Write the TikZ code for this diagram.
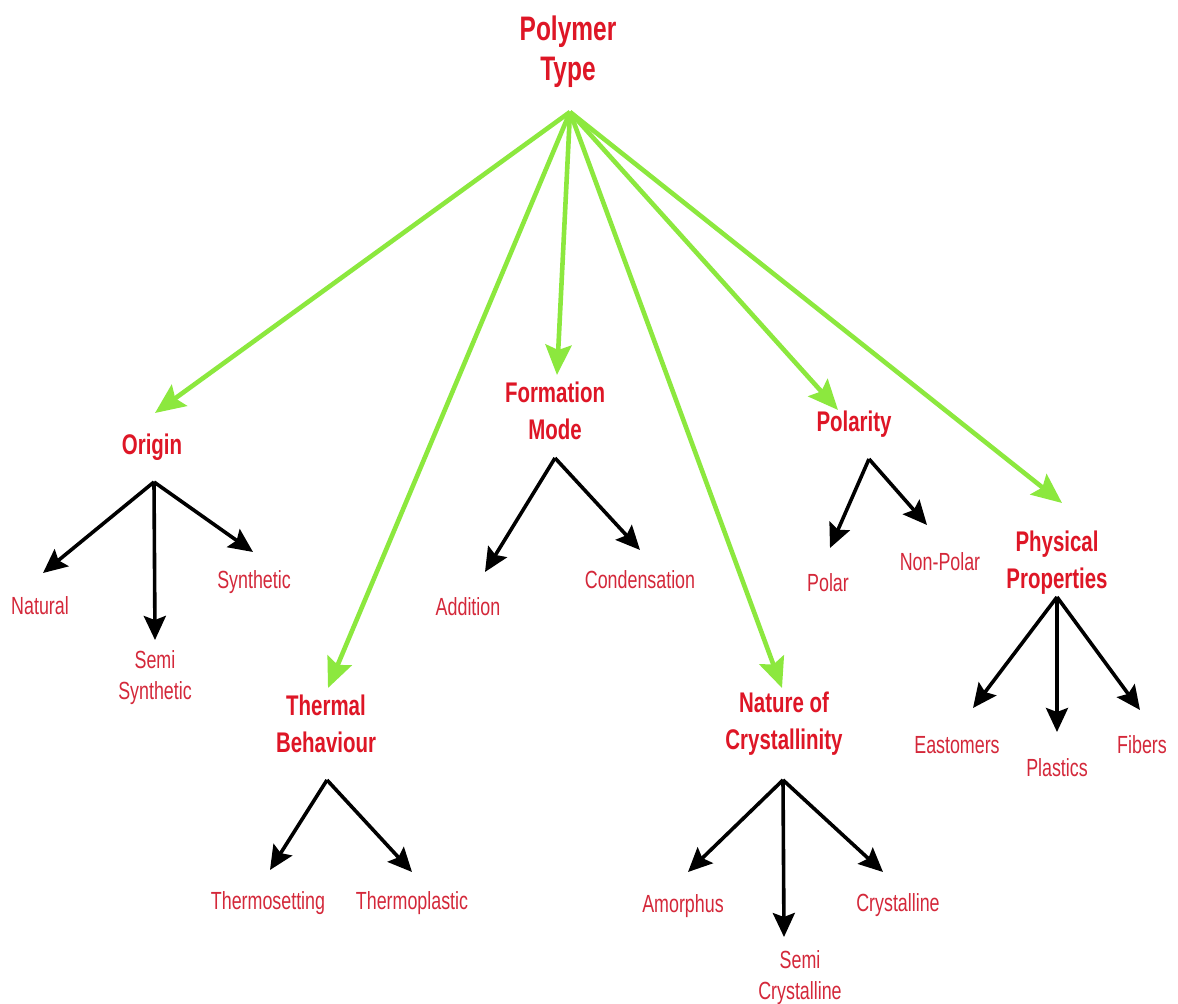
\documentclass[tikz,border=0pt]{standalone}
\usepackage{fontspec}
\setmainfont{Liberation Sans}[FakeStretch=0.72]
\usetikzlibrary{arrows.meta}
\definecolor{lblred}{RGB}{222,22,38}
\definecolor{leafred}{RGB}{212,40,58}
\definecolor{limeg}{RGB}{140,232,62}
\tikzset{
  rootlbl/.style={text=lblred,align=center,inner sep=0pt,font=\bfseries\fontsize{17}{20}\selectfont},
  catlbl/.style={text=lblred,align=center,inner sep=0pt,font=\bfseries\fontsize{14.2}{18.5}\selectfont},
  leaflbl/.style={text=leafred,align=center,inner sep=0pt,font=\fontsize{12.4}{15.5}\selectfont},
  greenarr/.style={draw=limeg,line width=2.3pt,-{Stealth[length=15pt,width=13pt,inset=2.5pt]}},
  blackarr/.style={draw=black,line width=1.8pt,-{Stealth[length=12pt,width=11pt,inset=2pt]}}
}
\begin{document}
\begin{tikzpicture}[x=0.5pt,y=-0.5pt]
\useasboundingbox[fill=white] (0,0) rectangle (1178,1004);
% labels
\node[rootlbl] (root) at (568,52) {Polymer\\Type};
\node[catlbl] (origin) at (152,447) {Origin};
\node[catlbl] (formation) at (555,411) {Formation\\Mode};
\node[catlbl] (polarity) at (854,424) {Polarity};
\node[catlbl] (physical) at (1057,563) {Physical\\Properties};
\node[catlbl] (thermal) at (326,724) {Thermal\\Behaviour};
\node[catlbl] (nature) at (784,724) {Nature of\\Crystallinity};
\node[leaflbl] (natural) at (40,606) {Natural};
\node[leaflbl] (semisyn) at (155,678) {Semi\\Synthetic};
\node[leaflbl] (synthetic) at (254,582) {Synthetic};
\node[leaflbl] (thermoset) at (268,903) {Thermosetting};
\node[leaflbl] (thermoplast) at (412,903) {Thermoplastic};
\node[leaflbl] (addition) at (468,607) {Addition};
\node[leaflbl] (condensation) at (640,580) {Condensation};
\node[leaflbl] (polar) at (828,583) {Polar};
\node[leaflbl] (nonpolar) at (940,562) {Non-Polar};
\node[leaflbl] (eastomers) at (957,745) {Eastomers};
\node[leaflbl] (plastics) at (1057,768) {Plastics};
\node[leaflbl] (fibers) at (1142,745) {Fibers};
\node[leaflbl] (amorphus) at (683,906) {Amorphus};
\node[leaflbl] (crystalline) at (898,905) {Crystalline};
\node[leaflbl] (semicryst) at (800,978) {Semi\\Crystalline};
% connector points
\coordinate (rootP) at (570,112);
\coordinate (tOrigin) at (155,413);
\coordinate (tFormation) at (557,375);
\coordinate (tThermal) at (328,688);
\coordinate (tNature) at (782,688);
\coordinate (tPolarity) at (838,410);
\coordinate (tPhysical) at (1062,503);
\coordinate (hOrigin) at (154,482);
\coordinate (hThermal) at (327,780);
\coordinate (hFormation) at (555,458);
\coordinate (hPolarity) at (869,459);
\coordinate (hPhysical) at (1057,597);
\coordinate (hNature) at (783,780);
\coordinate (tNatural) at (43,573);
\coordinate (tSemisyn) at (155,640);
\coordinate (tSynthetic) at (253,552);
\coordinate (tThermoset) at (270,870);
\coordinate (tThermoplast) at (412,872);
\coordinate (tAddition) at (485,572);
\coordinate (tCondensation) at (640,550);
\coordinate (tPolar) at (830,548);
\coordinate (tNonpolar) at (927,525);
\coordinate (tEastomers) at (973,708);
\coordinate (tPlastics) at (1057,732);
\coordinate (tFibers) at (1140,710);
\coordinate (tAmorphus) at (688,872);
\coordinate (tSemicryst) at (784,937);
\coordinate (tCrystalline) at (883,872);
% green connectors
\foreach \t in {tOrigin,tFormation,tThermal,tNature,tPolarity,tPhysical}
  \draw[greenarr] (rootP) -- (\t);
% black connectors
\draw[blackarr] (hOrigin) -- (tNatural);
\draw[blackarr] (hOrigin) -- (tSemisyn);
\draw[blackarr] (hOrigin) -- (tSynthetic);
\draw[blackarr] (hThermal) -- (tThermoset);
\draw[blackarr] (hThermal) -- (tThermoplast);
\draw[blackarr] (hFormation) -- (tAddition);
\draw[blackarr] (hFormation) -- (tCondensation);
\draw[blackarr] (hPolarity) -- (tPolar);
\draw[blackarr] (hPolarity) -- (tNonpolar);
\draw[blackarr] (hPhysical) -- (tEastomers);
\draw[blackarr] (hPhysical) -- (tPlastics);
\draw[blackarr] (hPhysical) -- (tFibers);
\draw[blackarr] (hNature) -- (tAmorphus);
\draw[blackarr] (hNature) -- (tSemicryst);
\draw[blackarr] (hNature) -- (tCrystalline);
\end{tikzpicture}
\end{document}
